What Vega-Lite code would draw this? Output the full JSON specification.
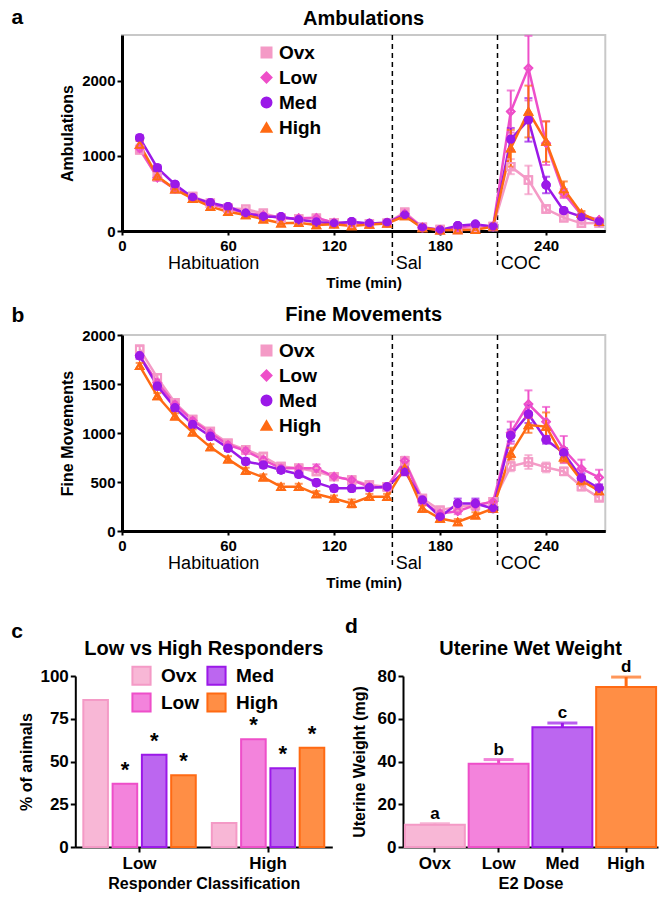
{
  "$schema": "https://vega.github.io/schema/vega-lite/v6.json",
  "padding": {"left": 10, "top": 6, "right": 5, "bottom": 5},
  "background": "white",
  "config": {
    "font": "Liberation Sans",
    "axis": {"grid": false, "domainColor": "black", "tickColor": "black", "labelColor": "black", "titleColor": "black", "labelFontWeight": "bold", "titleFontWeight": "bold", "labelFlush": false, "labelOverlap": false, "tickWidth": 2},
    "legend": {"labelColor": "black", "labelFontWeight": "bold"},
    "text": {"color": "black"}
  },
  "datasets": {
    "amb": [
      {"t":10,"group":"Ovx","v":1080,"se":50},{"t":10,"group":"Low","v":1100,"se":50},{"t":10,"group":"Med","v":1240,"se":40},{"t":10,"group":"High","v":1150,"se":50},
      {"t":20,"group":"Ovx","v":720,"se":35},{"t":20,"group":"Low","v":710,"se":35},{"t":20,"group":"Med","v":840,"se":40},{"t":20,"group":"High","v":730,"se":35},
      {"t":30,"group":"Ovx","v":560,"se":30},{"t":30,"group":"Low","v":560,"se":30},{"t":30,"group":"Med","v":620,"se":30},{"t":30,"group":"High","v":555,"se":30},
      {"t":40,"group":"Ovx","v":460,"se":25},{"t":40,"group":"Low","v":440,"se":25},{"t":40,"group":"Med","v":445,"se":25},{"t":40,"group":"High","v":430,"se":25},
      {"t":50,"group":"Ovx","v":370,"se":25},{"t":50,"group":"Low","v":360,"se":25},{"t":50,"group":"Med","v":377,"se":25},{"t":50,"group":"High","v":324,"se":25},
      {"t":60,"group":"Ovx","v":302,"se":20},{"t":60,"group":"Low","v":300,"se":20},{"t":60,"group":"Med","v":324,"se":20},{"t":60,"group":"High","v":257,"se":20},
      {"t":70,"group":"Ovx","v":289,"se":20},{"t":70,"group":"Low","v":240,"se":20},{"t":70,"group":"Med","v":236,"se":20},{"t":70,"group":"High","v":213,"se":20},
      {"t":80,"group":"Ovx","v":236,"se":20},{"t":80,"group":"Low","v":210,"se":20},{"t":80,"group":"Med","v":191,"se":20},{"t":80,"group":"High","v":156,"se":20},
      {"t":90,"group":"Ovx","v":169,"se":20},{"t":90,"group":"Low","v":170,"se":20},{"t":90,"group":"Med","v":190,"se":20},{"t":90,"group":"High","v":102,"se":20},
      {"t":100,"group":"Ovx","v":160,"se":20},{"t":100,"group":"Low","v":170,"se":20},{"t":100,"group":"Med","v":150,"se":20},{"t":100,"group":"High","v":110,"se":20},
      {"t":110,"group":"Ovx","v":170,"se":20},{"t":110,"group":"Low","v":175,"se":20},{"t":110,"group":"Med","v":120,"se":20},{"t":110,"group":"High","v":80,"se":20},
      {"t":120,"group":"Ovx","v":110,"se":15},{"t":120,"group":"Low","v":110,"se":15},{"t":120,"group":"Med","v":100,"se":15},{"t":120,"group":"High","v":90,"se":15},
      {"t":130,"group":"Ovx","v":100,"se":15},{"t":130,"group":"Low","v":110,"se":15},{"t":130,"group":"Med","v":124,"se":15},{"t":130,"group":"High","v":67,"se":15},
      {"t":140,"group":"Ovx","v":95,"se":15},{"t":140,"group":"Low","v":100,"se":15},{"t":140,"group":"Med","v":100,"se":15},{"t":140,"group":"High","v":85,"se":15},
      {"t":150,"group":"Ovx","v":105,"se":15},{"t":150,"group":"Low","v":110,"se":15},{"t":150,"group":"Med","v":111,"se":15},{"t":150,"group":"High","v":100,"se":15},
      {"t":160,"group":"Ovx","v":250,"se":40},{"t":160,"group":"Low","v":230,"se":40},{"t":160,"group":"Med","v":210,"se":40},{"t":160,"group":"High","v":200,"se":40},
      {"t":170,"group":"Ovx","v":50,"se":10},{"t":170,"group":"Low","v":50,"se":10},{"t":170,"group":"Med","v":44,"se":10},{"t":170,"group":"High","v":40,"se":10},
      {"t":180,"group":"Ovx","v":20,"se":10},{"t":180,"group":"Low","v":15,"se":10},{"t":180,"group":"Med","v":13,"se":10},{"t":180,"group":"High","v":10,"se":10},
      {"t":190,"group":"Ovx","v":20,"se":10},{"t":190,"group":"Low","v":40,"se":10},{"t":190,"group":"Med","v":71,"se":10},{"t":190,"group":"High","v":13,"se":10},
      {"t":200,"group":"Ovx","v":40,"se":10},{"t":200,"group":"Low","v":80,"se":10},{"t":200,"group":"Med","v":89,"se":10},{"t":200,"group":"High","v":17,"se":10},
      {"t":210,"group":"Ovx","v":60,"se":10},{"t":210,"group":"Low","v":60,"se":10},{"t":210,"group":"Med","v":58,"se":10},{"t":210,"group":"High","v":58,"se":10},
      {"t":220,"group":"Ovx","v":857,"se":100},{"t":220,"group":"Low","v":1591,"se":280},{"t":220,"group":"Med","v":1222,"se":150},{"t":220,"group":"High","v":1102,"se":245},
      {"t":230,"group":"Ovx","v":680,"se":190},{"t":230,"group":"Low","v":2169,"se":430},{"t":230,"group":"Med","v":1480,"se":290},{"t":230,"group":"High","v":1591,"se":345},
      {"t":240,"group":"Ovx","v":293,"se":45},{"t":240,"group":"Low","v":1169,"se":290},{"t":240,"group":"Med","v":613,"se":110},{"t":240,"group":"High","v":1191,"se":270},
      {"t":250,"group":"Ovx","v":177,"se":25},{"t":250,"group":"Low","v":500,"se":60},{"t":250,"group":"Med","v":271,"se":30},{"t":250,"group":"High","v":560,"se":100},
      {"t":260,"group":"Ovx","v":102,"se":20},{"t":260,"group":"Low","v":213,"se":30},{"t":260,"group":"Med","v":191,"se":25},{"t":260,"group":"High","v":236,"se":30},
      {"t":270,"group":"Ovx","v":107,"se":15},{"t":270,"group":"Low","v":147,"se":20},{"t":270,"group":"Med","v":124,"se":15},{"t":270,"group":"High","v":122,"se":15}
    ],
    "fine": [
      {"t":10,"group":"Ovx","v":1856,"se":30},{"t":10,"group":"Low","v":1788,"se":30},{"t":10,"group":"Med","v":1788,"se":30},{"t":10,"group":"High","v":1685,"se":30},
      {"t":20,"group":"Ovx","v":1565,"se":30},{"t":20,"group":"Low","v":1514,"se":30},{"t":20,"group":"Med","v":1479,"se":30},{"t":20,"group":"High","v":1377,"se":30},
      {"t":30,"group":"Ovx","v":1308,"se":30},{"t":30,"group":"Low","v":1291,"se":30},{"t":30,"group":"Med","v":1257,"se":30},{"t":30,"group":"High","v":1171,"se":30},
      {"t":40,"group":"Ovx","v":1137,"se":30},{"t":40,"group":"Low","v":1127,"se":30},{"t":40,"group":"Med","v":1086,"se":30},{"t":40,"group":"High","v":1007,"se":30},
      {"t":50,"group":"Ovx","v":1017,"se":30},{"t":50,"group":"Low","v":1000,"se":30},{"t":50,"group":"Med","v":966,"se":30},{"t":50,"group":"High","v":856,"se":30},
      {"t":60,"group":"Ovx","v":897,"se":30},{"t":60,"group":"Low","v":880,"se":30},{"t":60,"group":"Med","v":846,"se":30},{"t":60,"group":"High","v":733,"se":30},
      {"t":70,"group":"Ovx","v":829,"se":30},{"t":70,"group":"Low","v":818,"se":30},{"t":70,"group":"Med","v":709,"se":30},{"t":70,"group":"High","v":616,"se":30},
      {"t":80,"group":"Ovx","v":760,"se":30},{"t":80,"group":"Low","v":726,"se":30},{"t":80,"group":"Med","v":675,"se":30},{"t":80,"group":"High","v":548,"se":30},
      {"t":90,"group":"Ovx","v":658,"se":30},{"t":90,"group":"Low","v":640,"se":35},{"t":90,"group":"Med","v":623,"se":30},{"t":90,"group":"High","v":452,"se":30},
      {"t":100,"group":"Ovx","v":640,"se":30},{"t":100,"group":"Low","v":640,"se":35},{"t":100,"group":"Med","v":579,"se":30},{"t":100,"group":"High","v":452,"se":30},
      {"t":110,"group":"Ovx","v":606,"se":30},{"t":110,"group":"Low","v":640,"se":40},{"t":110,"group":"Med","v":493,"se":30},{"t":110,"group":"High","v":377,"se":30},
      {"t":120,"group":"Ovx","v":555,"se":30},{"t":120,"group":"Low","v":555,"se":30},{"t":120,"group":"Med","v":435,"se":30},{"t":120,"group":"High","v":332,"se":30},
      {"t":130,"group":"Ovx","v":520,"se":30},{"t":130,"group":"Low","v":520,"se":30},{"t":130,"group":"Med","v":435,"se":30},{"t":130,"group":"High","v":281,"se":40},
      {"t":140,"group":"Ovx","v":470,"se":30},{"t":140,"group":"Low","v":452,"se":30},{"t":140,"group":"Med","v":442,"se":30},{"t":140,"group":"High","v":349,"se":30},
      {"t":150,"group":"Ovx","v":452,"se":30},{"t":150,"group":"Low","v":442,"se":30},{"t":150,"group":"Med","v":452,"se":30},{"t":150,"group":"High","v":349,"se":30},
      {"t":160,"group":"Ovx","v":716,"se":40},{"t":160,"group":"Low","v":716,"se":40},{"t":160,"group":"Med","v":608,"se":40},{"t":160,"group":"High","v":642,"se":40},
      {"t":170,"group":"Ovx","v":332,"se":30},{"t":170,"group":"Low","v":298,"se":30},{"t":170,"group":"Med","v":316,"se":30},{"t":170,"group":"High","v":230,"se":30},
      {"t":180,"group":"Ovx","v":212,"se":30},{"t":180,"group":"Low","v":178,"se":30},{"t":180,"group":"Med","v":144,"se":30},{"t":180,"group":"High","v":127,"se":30},
      {"t":190,"group":"Ovx","v":247,"se":30},{"t":190,"group":"Low","v":202,"se":30},{"t":190,"group":"Med","v":281,"se":50},{"t":190,"group":"High","v":92,"se":30},
      {"t":200,"group":"Ovx","v":264,"se":30},{"t":200,"group":"Low","v":264,"se":50},{"t":200,"group":"Med","v":281,"se":50},{"t":200,"group":"High","v":161,"se":30},
      {"t":210,"group":"Ovx","v":298,"se":30},{"t":210,"group":"Low","v":298,"se":30},{"t":210,"group":"Med","v":229,"se":30},{"t":210,"group":"High","v":229,"se":30},
      {"t":220,"group":"Ovx","v":660,"se":50},{"t":220,"group":"Low","v":1003,"se":113},{"t":220,"group":"Med","v":975,"se":60},{"t":220,"group":"High","v":790,"se":60},
      {"t":230,"group":"Ovx","v":704,"se":70},{"t":230,"group":"Low","v":1295,"se":140},{"t":230,"group":"Med","v":1192,"se":90},{"t":230,"group":"High","v":1082,"se":80},
      {"t":240,"group":"Ovx","v":649,"se":50},{"t":240,"group":"Low","v":1116,"se":150},{"t":240,"group":"Med","v":931,"se":40},{"t":240,"group":"High","v":1065,"se":145},
      {"t":250,"group":"Ovx","v":608,"se":40},{"t":250,"group":"Low","v":831,"se":138},{"t":250,"group":"Med","v":797,"se":50},{"t":250,"group":"High","v":752,"se":50},
      {"t":260,"group":"Ovx","v":454,"se":40},{"t":260,"group":"Low","v":635,"se":93},{"t":260,"group":"Med","v":539,"se":50},{"t":260,"group":"High","v":515,"se":50},
      {"t":270,"group":"Ovx","v":340,"se":30},{"t":270,"group":"Low","v":546,"se":79},{"t":270,"group":"Med","v":436,"se":40},{"t":270,"group":"High","v":408,"se":40}
    ],
    "resp": [
      {"cls":"Low","group":"Ovx","pct":86,"sig":""},{"cls":"Low","group":"Low","pct":37,"sig":"*"},{"cls":"Low","group":"Med","pct":54,"sig":"*"},{"cls":"Low","group":"High","pct":42,"sig":"*"},
      {"cls":"High","group":"Ovx","pct":14,"sig":""},{"cls":"High","group":"Low","pct":63,"sig":"*"},{"cls":"High","group":"Med","pct":46,"sig":"*"},{"cls":"High","group":"High","pct":58,"sig":"*"}
    ],
    "uter": [
      {"dose":"Ovx","w":10.4,"upper":10.9,"letter":"a"},
      {"dose":"Low","w":39,"upper":40.9,"letter":"b"},
      {"dose":"Med","w":56,"upper":58,"letter":"c"},
      {"dose":"High","w":74.8,"upper":79.5,"letter":"d"}
    ]
  },
  "spacing": 25,
  "resolve": {
    "scale": {"color": "independent", "fill": "independent", "stroke": "independent", "shape": "independent"},
    "legend": {"color": "independent", "fill": "independent", "stroke": "independent", "shape": "independent"}
  },
  "vconcat": [
    {
      "spacing": 13,
      "resolve": {
        "scale": {"color": "independent", "fill": "independent", "stroke": "independent", "shape": "independent"},
        "legend": {"color": "independent", "fill": "independent", "stroke": "independent", "shape": "independent"}
      },
      "vconcat": [
        {
          "width": 483.3, "height": 196,
          "view": {"stroke": "#c8c8c8", "strokeWidth": 2},
          "layer": [
            {
              "data": {"values": [{"t":153,"v":2610,"v2":-505},{"t":212.5,"v":2610,"v2":-505}]},
              "mark": {"type": "rule", "strokeDash": [5, 4], "strokeWidth": 1.5, "color": "black"},
              "encoding": {
                "x": {"field": "t", "type": "quantitative", "title": "Time (min)", "scale": {"domain": [0, 273.5], "nice": false, "zero": false}, "axis": {"values": [0,60,120,180,240], "titleFontSize": 15, "titlePadding": 22, "labelFontSize": 15, "tickSize": 4, "labelPadding": 3, "domainWidth": 3}},
                "y": {"field": "v", "type": "quantitative", "title": "Ambulations", "scale": {"domain": [0, 2610], "nice": false}, "axis": {"values": [0,500,1000,1500,2000,2500], "format": "d", "titleFontSize": 16, "titlePadding": 6, "labelFontSize": 15, "tickSize": 5, "labelPadding": 2, "domainWidth": 3}},
                "y2": {"field": "v2"}
              }
            },
            {
              "data": {"values": [{"t":26.1,"v":-506,"label":"Habituation"},{"t":154.9,"v":-506,"label":"Sal"},{"t":214.3,"v":-506,"label":"COC"}]},
              "mark": {"type": "text", "align": "left", "baseline": "alphabetic", "fontSize": 18},
              "encoding": {
                "x": {"field": "t", "type": "quantitative", "title": "Time (min)"},
                "y": {"field": "v", "type": "quantitative", "title": "Ambulations"},
                "text": {"field": "label"}
              }
            },
            {
              "data": {"name": "amb"},
              "mark": {"type": "point", "size": 55, "strokeWidth": 2, "filled": false, "opacity": 1},
              "encoding": {
                "x": {"field": "t", "type": "quantitative", "title": "Time (min)"},
                "y": {"field": "v", "type": "quantitative", "title": "Ambulations"},
                "color": {"field": "group", "type": "nominal", "scale": {"domain": ["Ovx","Low","Med","High"], "range": ["#F49AC6","#EE4FC9","#9B19E8","#FF6A13"]}, "legend": {"orient": "none", "legendX": 135, "legendY": 8, "direction": "vertical", "columns": 1, "title": null, "labelFontSize": 19, "symbolSize": 100, "symbolStrokeWidth": 2, "rowPadding": 5, "labelOffset": 3, "padding": 0, "encode": {"symbols": {"fill": {"value": {"expr": "datum.value === 'Med' ? '#9B19E8' : 'transparent'"}}}}}},
                "shape": {"field": "group", "type": "nominal", "scale": {"domain": ["Ovx","Low","Med","High"], "range": ["square","diamond","circle","triangle-up"]}, "legend": {"orient": "none", "legendX": 135, "legendY": 8, "direction": "vertical", "columns": 1, "title": null, "labelFontSize": 19, "symbolSize": 100, "symbolStrokeWidth": 2, "rowPadding": 5, "labelOffset": 3, "padding": 0, "encode": {"symbols": {"fill": {"value": {"expr": "datum.value === 'Med' ? '#9B19E8' : 'transparent'"}}}}}}
              }
            },
            {
              "data": {"name": "amb"},
              "mark": {"type": "line", "strokeWidth": 2.5},
              "encoding": {
                "x": {"field": "t", "type": "quantitative", "title": "Time (min)"},
                "y": {"field": "v", "type": "quantitative", "title": "Ambulations"},
                "color": {"field": "group", "type": "nominal", "scale": {"domain": ["Ovx","Low","Med","High"], "range": ["#F49AC6","#EE4FC9","#9B19E8","#FF6A13"]}, "legend": null}
              }
            },
            {
              "data": {"name": "amb"},
              "mark": {"type": "errorbar", "ticks": true, "size": 8, "thickness": 2},
              "encoding": {
                "x": {"field": "t", "type": "quantitative", "title": "Time (min)"},
                "y": {"field": "v", "type": "quantitative", "title": "Ambulations"},
                "yError": {"field": "se"},
                "color": {"field": "group", "type": "nominal", "scale": {"domain": ["Ovx","Low","Med","High"], "range": ["#F49AC6","#EE4FC9","#9B19E8","#FF6A13"]}, "legend": null}
              }
            },
            {
              "data": {"name": "amb"},
              "mark": {"type": "point", "size": 55, "strokeWidth": 2, "filled": false, "opacity": 1},
              "encoding": {
                "x": {"field": "t", "type": "quantitative", "title": "Time (min)"},
                "y": {"field": "v", "type": "quantitative", "title": "Ambulations"},
                "color": {"field": "group", "type": "nominal", "scale": {"domain": ["Ovx","Low","Med","High"], "range": ["#F49AC6","#EE4FC9","#9B19E8","#FF6A13"]}, "legend": null},
                "shape": {"field": "group", "type": "nominal", "scale": {"domain": ["Ovx","Low","Med","High"], "range": ["square","diamond","circle","triangle-up"]}, "legend": null}
              }
            },
            {
              "data": {"name": "amb"},
              "transform": [{"filter": "datum.group === 'Med'"}],
              "mark": {"type": "point", "size": 55, "strokeWidth": 2, "filled": true, "shape": "circle", "color": "#9B19E8", "opacity": 1},
              "encoding": {
                "x": {"field": "t", "type": "quantitative", "title": "Time (min)"},
                "y": {"field": "v", "type": "quantitative", "title": "Ambulations"}
              }
            },
            {
              "data": {"values": [{"t":136.75,"v":2743,"label":"Ambulations"}]},
              "mark": {"type": "text", "align": "center", "baseline": "alphabetic", "fontSize": 20, "fontWeight": "bold"},
              "encoding": {"x": {"field": "t", "type": "quantitative", "title": "Time (min)"}, "y": {"field": "v", "type": "quantitative", "title": "Ambulations"}, "text": {"field": "label"}}
            },
            {
              "data": {"values": [{"t":-62.6,"v":2756,"label":"a"}]},
              "mark": {"type": "text", "align": "left", "baseline": "alphabetic", "fontSize": 21, "fontWeight": "bold"},
              "encoding": {"x": {"field": "t", "type": "quantitative", "title": "Time (min)"}, "y": {"field": "v", "type": "quantitative", "title": "Ambulations"}, "text": {"field": "label"}}
            }
          ]
        },
        {
          "width": 483.3, "height": 196,
          "view": {"stroke": "#c8c8c8", "strokeWidth": 2},
          "layer": [
            {
              "data": {"values": [{"t":153,"v":2000,"v2":-388},{"t":212.5,"v":2000,"v2":-388}]},
              "mark": {"type": "rule", "strokeDash": [5, 4], "strokeWidth": 1.5, "color": "black"},
              "encoding": {
                "x": {"field": "t", "type": "quantitative", "title": "Time (min)", "scale": {"domain": [0, 273.5], "nice": false, "zero": false}, "axis": {"values": [0,60,120,180,240], "titleFontSize": 15, "titlePadding": 22, "labelFontSize": 15, "tickSize": 4, "labelPadding": 3, "domainWidth": 3}},
                "y": {"field": "v", "type": "quantitative", "title": "Fine Movements", "scale": {"domain": [0, 2000], "nice": false}, "axis": {"values": [0,500,1000,1500,2000], "format": "d", "titleFontSize": 16, "titlePadding": 6, "labelFontSize": 15, "tickSize": 5, "labelPadding": 2, "domainWidth": 3}},
                "y2": {"field": "v2"}
              }
            },
            {
              "data": {"values": [{"t":26.1,"v":-389,"label":"Habituation"},{"t":154.9,"v":-389,"label":"Sal"},{"t":214.3,"v":-389,"label":"COC"}]},
              "mark": {"type": "text", "align": "left", "baseline": "alphabetic", "fontSize": 18},
              "encoding": {
                "x": {"field": "t", "type": "quantitative", "title": "Time (min)"},
                "y": {"field": "v", "type": "quantitative", "title": "Fine Movements"},
                "text": {"field": "label"}
              }
            },
            {
              "data": {"name": "fine"},
              "mark": {"type": "point", "size": 55, "strokeWidth": 2, "filled": false, "opacity": 1},
              "encoding": {
                "x": {"field": "t", "type": "quantitative", "title": "Time (min)"},
                "y": {"field": "v", "type": "quantitative", "title": "Fine Movements"},
                "color": {"field": "group", "type": "nominal", "scale": {"domain": ["Ovx","Low","Med","High"], "range": ["#F49AC6","#EE4FC9","#9B19E8","#FF6A13"]}, "legend": {"orient": "none", "legendX": 135, "legendY": 6, "direction": "vertical", "columns": 1, "title": null, "labelFontSize": 19, "symbolSize": 100, "symbolStrokeWidth": 2, "rowPadding": 5, "labelOffset": 3, "padding": 0, "encode": {"symbols": {"fill": {"value": {"expr": "datum.value === 'Med' ? '#9B19E8' : 'transparent'"}}}}}},
                "shape": {"field": "group", "type": "nominal", "scale": {"domain": ["Ovx","Low","Med","High"], "range": ["square","diamond","circle","triangle-up"]}, "legend": {"orient": "none", "legendX": 135, "legendY": 6, "direction": "vertical", "columns": 1, "title": null, "labelFontSize": 19, "symbolSize": 100, "symbolStrokeWidth": 2, "rowPadding": 5, "labelOffset": 3, "padding": 0, "encode": {"symbols": {"fill": {"value": {"expr": "datum.value === 'Med' ? '#9B19E8' : 'transparent'"}}}}}}
              }
            },
            {
              "data": {"name": "fine"},
              "mark": {"type": "line", "strokeWidth": 2.5},
              "encoding": {
                "x": {"field": "t", "type": "quantitative", "title": "Time (min)"},
                "y": {"field": "v", "type": "quantitative", "title": "Fine Movements"},
                "color": {"field": "group", "type": "nominal", "scale": {"domain": ["Ovx","Low","Med","High"], "range": ["#F49AC6","#EE4FC9","#9B19E8","#FF6A13"]}, "legend": null}
              }
            },
            {
              "data": {"name": "fine"},
              "mark": {"type": "errorbar", "ticks": true, "size": 8, "thickness": 2},
              "encoding": {
                "x": {"field": "t", "type": "quantitative", "title": "Time (min)"},
                "y": {"field": "v", "type": "quantitative", "title": "Fine Movements"},
                "yError": {"field": "se"},
                "color": {"field": "group", "type": "nominal", "scale": {"domain": ["Ovx","Low","Med","High"], "range": ["#F49AC6","#EE4FC9","#9B19E8","#FF6A13"]}, "legend": null}
              }
            },
            {
              "data": {"name": "fine"},
              "mark": {"type": "point", "size": 55, "strokeWidth": 2, "filled": false, "opacity": 1},
              "encoding": {
                "x": {"field": "t", "type": "quantitative", "title": "Time (min)"},
                "y": {"field": "v", "type": "quantitative", "title": "Fine Movements"},
                "color": {"field": "group", "type": "nominal", "scale": {"domain": ["Ovx","Low","Med","High"], "range": ["#F49AC6","#EE4FC9","#9B19E8","#FF6A13"]}, "legend": null},
                "shape": {"field": "group", "type": "nominal", "scale": {"domain": ["Ovx","Low","Med","High"], "range": ["square","diamond","circle","triangle-up"]}, "legend": null}
              }
            },
            {
              "data": {"name": "fine"},
              "transform": [{"filter": "datum.group === 'Med'"}],
              "mark": {"type": "point", "size": 55, "strokeWidth": 2, "filled": true, "shape": "circle", "color": "#9B19E8", "opacity": 1},
              "encoding": {
                "x": {"field": "t", "type": "quantitative", "title": "Time (min)"},
                "y": {"field": "v", "type": "quantitative", "title": "Fine Movements"}
              }
            },
            {
              "data": {"values": [{"t":136.75,"v":2140,"label":"Fine Movements"}]},
              "mark": {"type": "text", "align": "center", "baseline": "alphabetic", "fontSize": 20, "fontWeight": "bold"},
              "encoding": {"x": {"field": "t", "type": "quantitative", "title": "Time (min)"}, "y": {"field": "v", "type": "quantitative", "title": "Fine Movements"}, "text": {"field": "label"}}
            },
            {
              "data": {"values": [{"t":-62.6,"v":2130,"label":"b"}]},
              "mark": {"type": "text", "align": "left", "baseline": "alphabetic", "fontSize": 21, "fontWeight": "bold"},
              "encoding": {"x": {"field": "t", "type": "quantitative", "title": "Time (min)"}, "y": {"field": "v", "type": "quantitative", "title": "Fine Movements"}, "text": {"field": "label"}}
            }
          ]
        }
      ]
    },
    {
      "spacing": -34,
      "resolve": {
        "scale": {"color": "independent", "fill": "independent", "stroke": "independent", "shape": "independent"},
        "legend": {"color": "independent", "fill": "independent", "stroke": "independent", "shape": "independent"}
      },
      "hconcat": [
        {
          "width": 163.6, "height": 171,
          "view": {"stroke": null},
          "layer": [
            {
              "data": {"name": "resp"},
              "mark": {"type": "bar", "strokeWidth": 2},
              "encoding": {
                "x": {"field": "cls", "type": "nominal", "title": "Responder Classification", "sort": ["Low","High"], "scale": {"range": [-46.7, 210.3], "paddingInner": 0.125, "paddingOuter": 0.0625}, "axis": {"titleFontSize": 16, "titlePadding": 4, "labelFontSize": 17, "labelAngle": 0, "tickSize": 5, "labelPadding": 3, "domainWidth": 2}},
                "xOffset": {"field": "group", "type": "nominal", "sort": ["Ovx","Low","Med","High"], "scale": {"paddingInner": 0.16, "paddingOuter": 0}},
                "y": {"field": "pct", "type": "quantitative", "title": "% of animals", "scale": {"domain": [0, 100], "nice": false}, "axis": {"values": [0,25,50,75,100], "offset": 46.7, "titleFontSize": 16, "titlePadding": 5, "labelFontSize": 17, "tickSize": 5, "labelPadding": 2, "domainWidth": 2}},
                "fill": {"field": "group", "type": "nominal", "scale": {"domain": ["Ovx","Low","Med","High"], "range": ["#F8B7D6","#F383DC","#BC66F0","#FF8E45"]}, "legend": {"orient": "none", "legendX": 9, "legendY": -11, "title": null, "columns": 2, "labelFontSize": 19, "symbolType": "square", "symbolSize": 330, "symbolStrokeWidth": 2, "rowPadding": 0, "columnPadding": 4, "labelOffset": 9, "padding": 0}},
                "stroke": {"field": "group", "type": "nominal", "scale": {"domain": ["Ovx","Low","Med","High"], "range": ["#F49AC6","#EE4FC9","#9B19E8","#FF6A13"]}, "legend": {"orient": "none", "legendX": 9, "legendY": -11, "title": null, "columns": 2, "labelFontSize": 19, "symbolType": "square", "symbolSize": 330, "symbolStrokeWidth": 2, "rowPadding": 0, "columnPadding": 4, "labelOffset": 9, "padding": 0}}
              }
            },
            {
              "data": {"name": "resp"},
              "mark": {"type": "text", "baseline": "alphabetic", "align": "center", "fontSize": 22, "fontWeight": "bold", "dy": -7},
              "encoding": {
                "x": {"field": "cls", "type": "nominal", "title": "Responder Classification", "sort": ["Low","High"]},
                "xOffset": {"field": "group", "type": "nominal", "sort": ["Ovx","Low","Med","High"]},
                "y": {"field": "pct", "type": "quantitative", "title": "% of animals"},
                "text": {"field": "sig"}
              }
            },
            {
              "data": {"values": [{"pct": 112, "label": "Low vs High Responders"}]},
              "mark": {"type": "text", "align": "center", "baseline": "alphabetic", "fontSize": 20, "fontWeight": "bold"},
              "encoding": {"y": {"field": "pct", "type": "quantitative", "title": "% of animals"}, "text": {"field": "label"}}
            },
            {
              "data": {"values": [{"pct": 122, "label": "c"}]},
              "mark": {"type": "text", "align": "left", "baseline": "alphabetic", "fontSize": 21, "fontWeight": "bold", "dx": -192.5},
              "encoding": {"y": {"field": "pct", "type": "quantitative", "title": "% of animals"}, "text": {"field": "label"}}
            }
          ]
        },
        {
          "width": 255, "height": 171,
          "view": {"stroke": null},
          "layer": [
            {
              "data": {"name": "uter"},
              "mark": {"type": "bar", "strokeWidth": 2},
              "encoding": {
                "x": {"field": "dose", "type": "nominal", "title": "E2 Dose", "sort": ["Ovx","Low","Med","High"], "scale": {"paddingInner": 0.06, "paddingOuter": 0.03}, "axis": {"titleFontSize": 16.5, "titlePadding": 4, "labelFontSize": 17, "labelAngle": 0, "tickSize": 5, "labelPadding": 3, "domainWidth": 2}},
                "y": {"field": "w", "type": "quantitative", "title": "Uterine Weight (mg)", "scale": {"domain": [0, 80], "nice": false}, "axis": {"values": [0,20,40,60,80], "titleFontSize": 16, "titlePadding": 10, "labelFontSize": 17, "tickSize": 5, "labelPadding": 2, "domainWidth": 2}},
                "fill": {"field": "dose", "type": "nominal", "scale": {"domain": ["Ovx","Low","Med","High"], "range": ["#F8B7D6","#F383DC","#BC66F0","#FF8E45"]}, "legend": null},
                "stroke": {"field": "dose", "type": "nominal", "scale": {"domain": ["Ovx","Low","Med","High"], "range": ["#F49AC6","#EE4FC9","#9B19E8","#FF6A13"]}, "legend": null}
              }
            },
            {
              "data": {"name": "uter"},
              "mark": {"type": "rule", "strokeWidth": 3},
              "encoding": {
                "x": {"field": "dose", "type": "nominal", "title": "E2 Dose", "sort": ["Ovx","Low","Med","High"]},
                "y": {"field": "w", "type": "quantitative", "title": "Uterine Weight (mg)"},
                "y2": {"field": "upper"},
                "stroke": {"field": "dose", "type": "nominal", "scale": {"domain": ["Ovx","Low","Med","High"], "range": ["#F49AC6","#EE4FC9","#9B19E8","#FF6A13"]}, "legend": null}
              }
            },
            {
              "data": {"name": "uter"},
              "mark": {"type": "tick", "thickness": 3, "size": 30},
              "encoding": {
                "x": {"field": "dose", "type": "nominal", "title": "E2 Dose", "sort": ["Ovx","Low","Med","High"]},
                "y": {"field": "upper", "type": "quantitative", "title": "Uterine Weight (mg)"},
                "color": {"field": "dose", "type": "nominal", "scale": {"domain": ["Ovx","Low","Med","High"], "range": ["#F49AC6","#EE4FC9","#9B19E8","#FF6A13"]}, "legend": null}
              }
            },
            {
              "data": {"name": "uter"},
              "mark": {"type": "text", "baseline": "alphabetic", "align": "center", "fontSize": 17, "fontWeight": "bold", "dy": -5},
              "encoding": {
                "x": {"field": "dose", "type": "nominal", "title": "E2 Dose", "sort": ["Ovx","Low","Med","High"]},
                "y": {"field": "upper", "type": "quantitative", "title": "Uterine Weight (mg)"},
                "text": {"field": "letter"}
              }
            },
            {
              "data": {"values": [{"w": 89.6, "label": "Uterine Wet Weight"}]},
              "mark": {"type": "text", "align": "center", "baseline": "alphabetic", "fontSize": 20, "fontWeight": "bold"},
              "encoding": {"y": {"field": "w", "type": "quantitative", "title": "Uterine Weight (mg)"}, "text": {"field": "label"}}
            },
            {
              "data": {"values": [{"w": 99.9, "label": "d"}]},
              "mark": {"type": "text", "align": "left", "baseline": "alphabetic", "fontSize": 21, "fontWeight": "bold", "dx": -185.5},
              "encoding": {"y": {"field": "w", "type": "quantitative", "title": "Uterine Weight (mg)"}, "text": {"field": "label"}}
            }
          ]
        }
      ]
    }
  ]
}
